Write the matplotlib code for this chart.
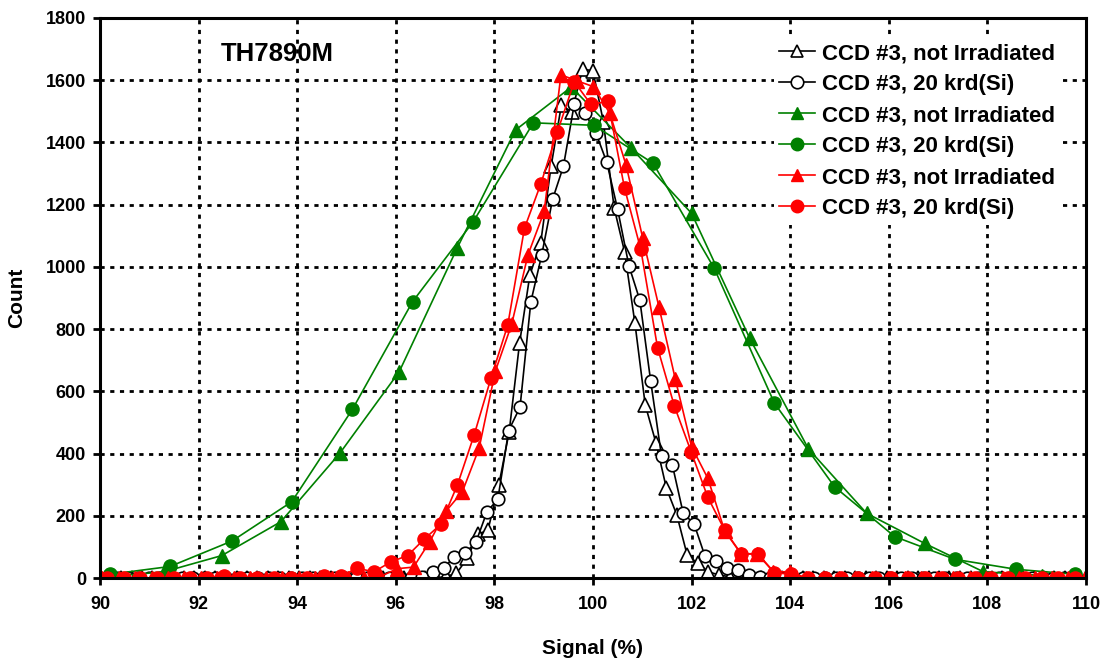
import matplotlib
matplotlib.use("Agg")
import matplotlib.pyplot as plt

plt.rcParams['font.family'] = ['Liberation Sans', 'DejaVu Sans']
plt.rcParams['font.weight'] = 'bold'

# ---------------- data ----------------
labels = ["CCD #3, not Irradiated", "CCD #3, 20 krd(Si)",
          "CCD #3, not Irradiated", "CCD #3, 20 krd(Si)",
          "CCD #3, not Irradiated", "CCD #3, 20 krd(Si)"]

# black open triangles
bt_x = [90.00, 90.21, 90.43, 90.64, 90.85, 91.06, 91.28, 91.49, 91.70, 91.91,
        92.13, 92.34, 92.55, 92.77, 92.98, 93.19, 93.40, 93.62, 93.83, 94.04,
        94.26, 94.47, 94.68, 94.89, 95.11, 95.32, 95.53, 95.74, 95.96, 96.17,
        96.38, 96.60, 96.81, 97.02, 97.23, 97.45, 97.66, 97.87, 98.09, 98.30,
        98.51, 98.72, 98.94, 99.15, 99.36, 99.57, 99.79, 100.00, 100.21, 100.43,
        100.64, 100.85, 101.06, 101.28, 101.49, 101.70, 101.91, 102.13, 102.34, 102.55,
        102.77, 102.98, 103.19, 103.40, 103.62, 103.83, 104.04, 104.26, 104.47, 104.68,
        104.89, 105.11, 105.32, 105.53, 105.74, 105.96, 106.17, 106.38, 106.60, 106.81,
        107.02, 107.23, 107.45, 107.66, 107.87, 108.09, 108.30, 108.51, 108.72, 108.94,
        109.15, 109.36, 109.57, 109.79, 110.00]
bt_y = [0, 0, 0, 0, 0, 0, 0, 0, 0, 0,
        0, 0, 0, 0, 0, 0, 0, 0, 0, 0,
        0, 0, 0, 0, 0, 0, 0, 0, 0, 0,
        0, 0, 0, 5, 15, 63, 140, 154, 299, 470,
        754, 974, 1078, 1323, 1521, 1497, 1636, 1630, 1467, 1189,
        1049, 820, 556, 433, 288, 203, 74, 47, 20, 10,
        4, 0, 0, 0, 0, 0, 0, 0, 0, 0,
        0, 0, 0, 0, 0, 0, 0, 0, 0, 0,
        0, 0, 0, 0, 0, 0, 0, 0, 0, 0,
        0, 0, 0, 0, 0]

# black open circles
bc_x = [90.12, 90.34, 90.56, 90.78, 91.00, 91.22, 91.44, 91.67, 91.89, 92.11,
        92.33, 92.55, 92.77, 92.99, 93.21, 93.43, 93.65, 93.87, 94.09, 94.32,
        94.54, 94.76, 94.98, 95.20, 95.42, 95.64, 95.86, 96.08, 96.30, 96.53,
        96.75, 96.97, 97.19, 97.41, 97.63, 97.85, 98.07, 98.29, 98.52, 98.74,
        98.96, 99.18, 99.40, 99.62, 99.84, 100.06, 100.28, 100.50, 100.73, 100.95,
        101.17, 101.39, 101.61, 101.83, 102.05, 102.27, 102.49, 102.71, 102.94, 103.16,
        103.38, 103.60, 103.82, 104.04, 104.26, 104.48, 104.70, 104.92, 105.15, 105.37,
        105.59, 105.81, 106.03, 106.25, 106.47, 106.69, 106.91, 107.13, 107.36, 107.58,
        107.80, 108.02, 108.24, 108.46, 108.68, 108.90, 109.12, 109.34, 109.56, 109.79]
bc_y = [0, 0, 0, 0, 0, 0, 0, 0, 0, 0,
        0, 0, 0, 0, 0, 0, 0, 0, 0, 0,
        0, 0, 0, 0, 0, 0, 0, 0, 0, 4,
        20, 31, 69, 79, 117, 213, 253, 474, 549, 888,
        1038, 1217, 1323, 1523, 1494, 1430, 1336, 1185, 1003, 893,
        633, 392, 363, 208, 174, 71, 55, 31, 26, 9,
        4, 0, 0, 0, 0, 0, 0, 0, 0, 0,
        0, 0, 0, 0, 0, 0, 0, 0, 0, 0,
        0, 0, 0, 0, 0, 0, 0, 0, 0, 0]

# green filled triangles
gt_x = [90.10, 91.30, 92.47, 93.67, 94.87, 96.07, 97.25, 98.43, 99.56, 100.78,
        102.00, 103.18, 104.37, 105.55, 106.73, 107.92, 109.10]
gt_y = [3, 20, 72, 181, 402, 663, 1062, 1440, 1578, 1381,
        1172, 770, 415, 208, 111, 20, 8]

# green filled circles
gc_x = [90.20, 91.42, 92.68, 93.89, 95.12, 96.34, 97.57, 98.79, 100.02, 101.22,
        102.46, 103.68, 104.90, 106.12, 107.34, 108.58, 109.78]
gc_y = [12, 37, 119, 245, 542, 888, 1145, 1463, 1455, 1333,
        995, 562, 293, 133, 60, 28, 12]

# red filled triangles
rt_x = [90.05, 90.38, 90.71, 91.05, 91.38, 91.71, 92.04, 92.37, 92.71, 93.04,
        93.37, 93.70, 94.03, 94.37, 94.70, 95.03, 95.36, 95.69, 96.03, 96.36,
        96.69, 97.02, 97.35, 97.69, 98.02, 98.35, 98.68, 99.01, 99.35, 99.68,
        100.01, 100.34, 100.67, 101.01, 101.34, 101.67, 102.00, 102.33, 102.67, 103.00,
        103.33, 103.66, 103.99, 104.33, 104.66, 104.99, 105.32, 105.65, 105.99, 106.32,
        106.65, 106.98, 107.31, 107.65, 107.98, 108.31, 108.64, 108.97, 109.31, 109.64,
        109.97]
rt_y = [0, 0, 0, 0, 0, 0, 0, 0, 0, 0,
        0, 0, 0, 0, 0, 0, 0, 5, 30, 35,
        117, 215, 277, 417, 665, 815, 1038, 1178, 1617, 1598,
        1579, 1494, 1328, 1092, 870, 639, 422, 320, 152, 78,
        78, 20, 20, 0, 0, 0, 0, 0, 0, 0,
        0, 0, 0, 0, 0, 0, 0, 0, 0, 0,
        0]

# red filled circles
rc_x = [90.14, 90.48, 90.82, 91.16, 91.50, 91.83, 92.17, 92.51, 92.85, 93.19,
        93.53, 93.87, 94.20, 94.54, 94.88, 95.22, 95.56, 95.90, 96.24, 96.57,
        96.91, 97.25, 97.59, 97.93, 98.27, 98.61, 98.94, 99.28, 99.62, 99.96,
        100.30, 100.64, 100.97, 101.31, 101.65, 101.99, 102.33, 102.67, 103.01, 103.35,
        103.68, 104.02, 104.36, 104.70, 105.04, 105.38, 105.71, 106.05, 106.39, 106.73,
        107.07, 107.41, 107.74, 108.08, 108.42, 108.76, 109.10, 109.44, 109.78]
rc_y = [0, 0, 0, 0, 0, 0, 0, 6, 0, 0,
        0, 0, 0, 8, 6, 31, 20, 52, 72, 124,
        172, 299, 460, 642, 812, 1124, 1266, 1435, 1595, 1522,
        1532, 1253, 1056, 740, 553, 406, 259, 154, 77, 77,
        17, 12, 0, 0, 0, 0, 0, 0, 0, 0,
        0, 0, 0, 0, 0, 0, 0, 0, 0]

x_ticks = [90, 92, 94, 96, 98, 100, 102, 104, 106, 108, 110]
y_ticks = [0, 200, 400, 600, 800, 1000, 1200, 1400, 1600, 1800]

# ---------------- figure ----------------
fig = plt.figure(figsize=(11.02, 6.63), dpi=100)
ax = fig.add_axes([0.0907, 0.1282, 0.8948, 0.8447])

lw = 1.2
green = '#008000'
red = '#ff0000'
ax.plot(bt_x, bt_y, '-^', color='black', lw=lw, ms=9.5, mfc='white', mec='black', mew=1.2, label=labels[0])
ax.plot(bc_x, bc_y, '-o', color='black', lw=lw, ms=9, mfc='white', mec='black', mew=1.2, label=labels[1])
ax.plot(gt_x, gt_y, '-^', color=green, lw=lw, ms=10, mfc=green, mec=green, label=labels[2])
ax.plot(gc_x, gc_y, '-o', color=green, lw=lw, ms=9.5, mfc=green, mec=green, label=labels[3])
ax.plot(rt_x, rt_y, '-^', color=red, lw=lw, ms=10, mfc=red, mec=red, label=labels[4])
ax.plot(rc_x, rc_y, '-o', color=red, lw=lw, ms=9.5, mfc=red, mec=red, label=labels[5])

ax.set_xlim(90, 110)
ax.set_ylim(0, 1800)
ax.set_xticks(x_ticks)
ax.set_yticks(y_ticks)
ax.grid(True, color='black', linestyle=(0, (1.5, 2)), linewidth=2)
ax.set_axisbelow(True)
for s in ax.spines.values():
    s.set_linewidth(2.2)
ax.tick_params(direction='out', length=5, width=2, labelsize=13)
ax.tick_params(axis='x', pad=8)
ax.tick_params(axis='y', pad=5)
for t in ax.get_xticklabels() + ax.get_yticklabels():
    t.set_fontweight('bold')

ax.set_xlabel('Signal (%)', fontsize=15, fontweight='bold', labelpad=19)
ax.set_ylabel('Count', fontsize=15, fontweight='bold', labelpad=14)

ax.text(92.45, 1685, 'TH7890M', fontsize=18.5, fontweight='bold', ha='left', va='center')

leg = ax.legend(loc='upper right', bbox_to_anchor=(0.985, 0.985),
                prop={'weight': 'bold', 'size': 16},
                handlelength=1.6, handletextpad=0.3, labelspacing=0.45,
                borderpad=0.25, numpoints=1, frameon=True, fancybox=False)
leg.get_frame().set_facecolor('white')
leg.get_frame().set_edgecolor('none')
leg.get_frame().set_alpha(1)
for h in leg.legend_handles:
    h.set_markersize(9)

fig.savefig('out.png', dpi=100)
